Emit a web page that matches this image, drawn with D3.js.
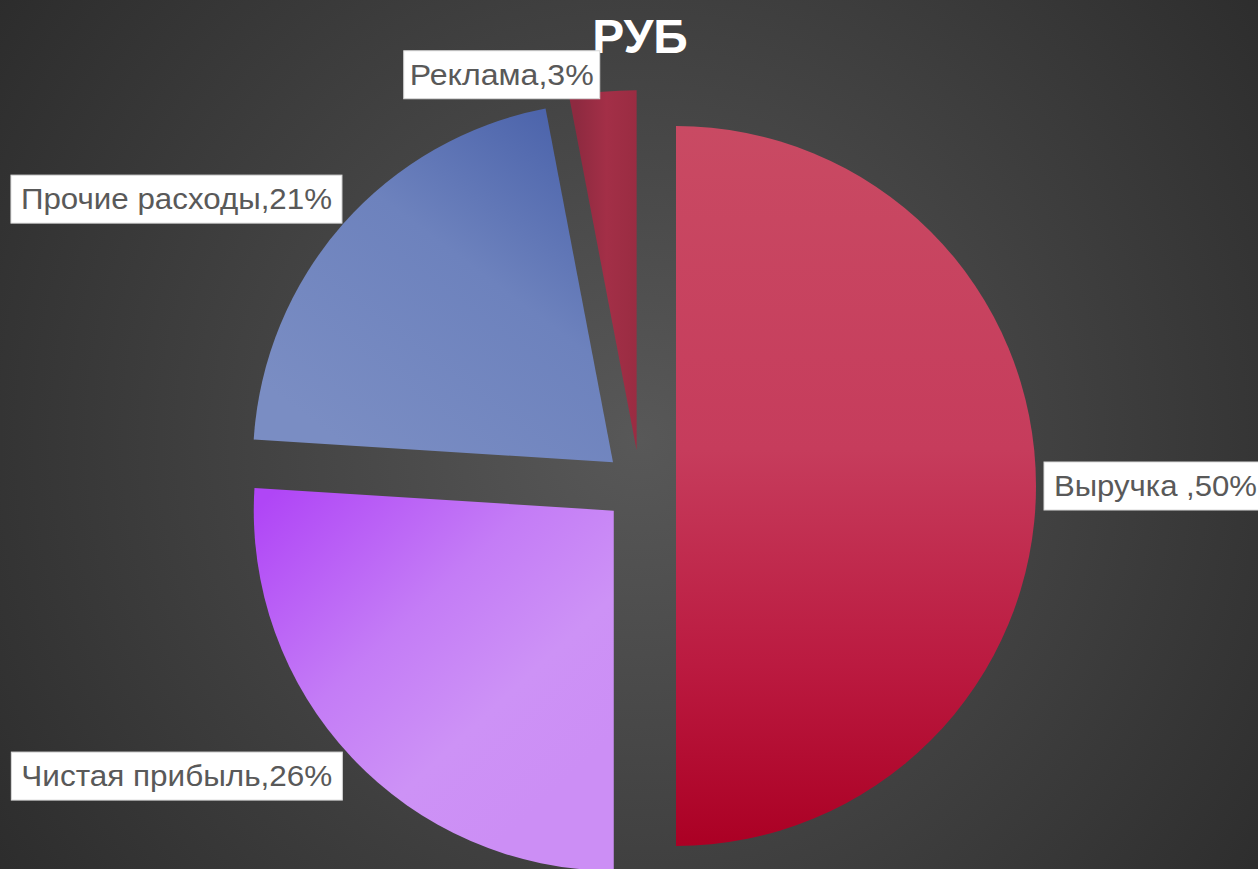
<!DOCTYPE html>
<html><head><meta charset="utf-8">
<script src="https://cdn.jsdelivr.net/npm/d3@7"></script>
<style>html,body{margin:0;padding:0;background:#333;overflow:hidden}</style>
</head><body>
<svg id="chart" width="1258" height="869"></svg>
<script>
const categories = ["Выручка ", "Чистая прибыль", "Прочие расходы", "Реклама"];
const values = [50, 26, 21, 3];
const labelTexts = ["Выручка ,50%", "Чистая прибыль,26%", "Прочие расходы,21%", "Реклама,3%"];
const titleLines = ["Структура выручки и расходов компании, тыс.", "РУБ"];

const W = 1258, H = 869;
const cx = 640, cy = 486, R = 360, explode = 36;
const svg = d3.select("#chart");
const defs = svg.append("defs");

// background
const bg = defs.append("radialGradient").attr("id", "bg")
  .attr("gradientUnits", "userSpaceOnUse").attr("cx", 640).attr("cy", 440).attr("r", 800);
bg.append("stop").attr("offset", 0).attr("stop-color", "#585858");
bg.append("stop").attr("offset", 0.6).attr("stop-color", "#3d3d3d");
bg.append("stop").attr("offset", 1).attr("stop-color", "#2b2b2b");
svg.append("rect").attr("width", W).attr("height", H).attr("fill", "url(#bg)");

// gradients for slices (direction vectors relative to slice center)
const grads = [
  {id: "g0", x1: 0, y1: -R, x2: 0, y2: R, stops: [[0, "#c94a63"], [0.45, "#c63c5c"], [0.75, "#bb1a40"], [1, "#ab0024"]]},
  {id: "g1", x1: -R, y1: 0, x2: -80, y2: 300, stops: [[0, "#b046f6"], [0.45, "#c47cf6"], [0.75, "#cd92f6"], [1, "#cc8ef5"]]},
  {id: "g2", x1: -60, y1: -R, x2: -300, y2: -40, stops: [[0, "#4a62aa"], [0.45, "#6d82bd"], [1, "#7a8dc3"]]},
  {id: "g3", x1: -60, y1: 0, x2: 0, y2: 0, stops: [[0, "#8e2a40"], [0.5, "#a32f47"], [1, "#9a2c42"]]}
];
grads.forEach(g => {
  const lg = defs.append("linearGradient").attr("id", g.id).attr("gradientUnits", "userSpaceOnUse")
    .attr("x1", g.x1).attr("y1", g.y1).attr("x2", g.x2).attr("y2", g.y2);
  g.stops.forEach(s => lg.append("stop").attr("offset", s[0]).attr("stop-color", s[1]));
});

const pie = d3.pie().sort(null).value(d => d)(values);
const arc = d3.arc().innerRadius(0).outerRadius(R);

function offset(d) {
  const a = (d.startAngle + d.endAngle) / 2;
  return [Math.sin(a) * explode, -Math.cos(a) * explode];
}

const slices = svg.append("g").selectAll("g").data(pie).join("g")
  .attr("transform", d => { const o = offset(d); return `translate(${cx + o[0]},${cy + o[1]})`; });
slices.append("path").attr("d", arc).attr("fill", (d, i) => `url(#g${i})`);

// title (first line runs off the top edge, as in the reference)
const title = svg.append("g");
title.append("text").attr("x", 640).attr("y", -13).attr("text-anchor", "middle")
  .attr("font-family", "Liberation Sans, Arial, sans-serif").attr("font-weight", "bold")
  .attr("font-size", 48).attr("fill", "#ffffff").text(titleLines[0]);
title.append("text").attr("x", 640).attr("y", 53).attr("text-anchor", "middle")
  .attr("font-family", "Liberation Sans, Arial, sans-serif").attr("font-weight", "bold")
  .attr("font-size", 48).attr("fill", "#ffffff").text(titleLines[1]);

// labels: anchor at outer arc point on mid-angle
const labelCfg = [
  {side: "right", dx: 8, dy: 0, w: 203},
  {side: "left", dx: -9, dy: 19, w: 311},
  {side: "left", dx: -1, dy: -25, w: 311},
  {side: "left", dx: -3, dy: -17, w: 184}
];
const lbl = svg.append("g");
pie.forEach((d, i) => {
  const a = (d.startAngle + d.endAngle) / 2;
  const o = offset(d);
  const px = cx + o[0] + Math.sin(a) * R;
  const py = cy + o[1] - Math.cos(a) * R;
  const c = labelCfg[i];
  const pad = i === 3 ? 6 : 10;
  const bw = c.w + 2 * pad, bh = 48;
  const bx = c.side === "right" ? px + c.dx : px + c.dx - bw;
  const by = py + c.dy - bh / 2;
  lbl.append("rect").attr("x", bx).attr("y", by).attr("width", bw).attr("height", bh)
    .attr("fill", "#ffffff").attr("stroke", "#d9d9d9").attr("stroke-width", 1);
  lbl.append("text").attr("x", bx + pad).attr("y", by + bh / 2 + 10)
    .attr("font-family", "Liberation Sans, Arial, sans-serif").attr("font-size", 29)
    .attr("fill", "#595959").attr("textLength", c.w).attr("lengthAdjust", "spacingAndGlyphs")
    .text(labelTexts[i]);
});
</script>
</body></html>
